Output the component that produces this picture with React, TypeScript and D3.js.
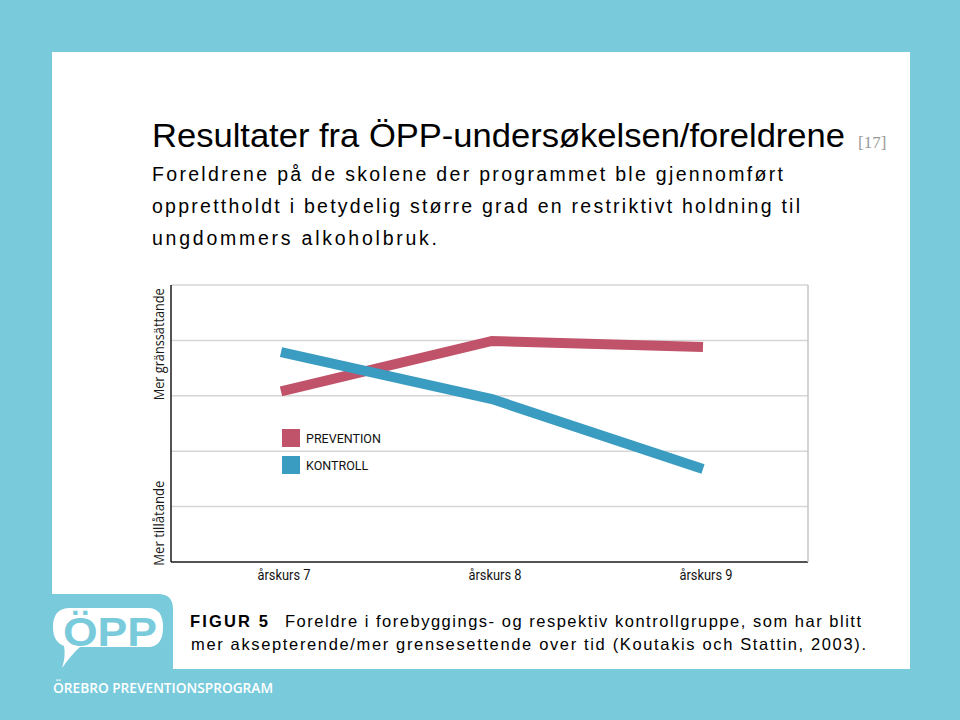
import React from "react";
import * as d3 from "d3";

const categories = ["årskurs 7", "årskurs 8", "årskurs 9"];
const preventionValues = [3.08, 3.99, 3.88];
const kontrollValues = [3.79, 2.94, 1.68];
const yTicks = [0, 1, 2, 3, 4, 5];
const seriesNames = ["PREVENTION", "KONTROLL"];
const yLabels = ["Mer gränssättande", "Mer tillåtande"];

const titleText = "Resultater fra ÖPP-undersøkelsen/foreldrene";
const subtitleLines = [
  "Foreldrene på de skolene der programmet ble gjennomført",
  "opprettholdt i betydelig større grad en restriktivt holdning til",
  "ungdommers alkoholbruk.",
];
const captionLabel = "FIGUR 5";
const captionLines = [
  "Foreldre i forebyggings- og respektiv kontrollgruppe, som har blitt",
  "mer aksepterende/mer grensesettende over tid (Koutakis och Stattin, 2003).",
];

const BG = "#79cbdc";
const RED = "#c0536a";
const BLUE = "#3a9cc1";

export default function App() {
  const plot = { left: 171, right: 808, top: 285, bottom: 562 };
  const x = d3.scalePoint<string>().domain(categories).range([281, 703]);
  const y = d3.scaleLinear().domain([0, 5]).range([plot.bottom, plot.top]);
  const line = d3
    .line<number>()
    .x((_, i) => x(categories[i]) as number)
    .y((d) => y(d));

  const series = [
    { name: seriesNames[0], values: preventionValues, color: RED },
    { name: seriesNames[1], values: kontrollValues, color: BLUE },
  ];

  const subtitleLengths = [631, 648, 285];

  return (
    <svg
      width={960}
      height={720}
      style={{ position: "absolute", left: 0, top: 0 }}
      xmlns="http://www.w3.org/2000/svg"
    >
      <rect x={0} y={0} width={960} height={720} fill={BG} />
      <rect x={52} y={52} width={858} height={617} fill="#ffffff" />

      {/* Title */}
      <text
        x={152}
        y={147}
        fontFamily="Liberation Sans, Arial, sans-serif"
        fontSize={33}
        fill="#000"
        textLength={693}
        lengthAdjust="spacingAndGlyphs"
      >
        {titleText}
      </text>
      <text
        x={858}
        y={148}
        fontFamily="Liberation Serif, serif"
        fontSize={17}
        fill="#9a9a9a"
      >
        [17]
      </text>
      {subtitleLines.map((t, i) => (
        <text
          key={i}
          x={152}
          y={181 + i * 32}
          fontFamily="Liberation Sans, Arial, sans-serif"
          fontSize={19.5}
          fill="#000"
          textLength={subtitleLengths[i]}
          lengthAdjust="spacing"
        >
          {t}
        </text>
      ))}

      {/* Chart gridlines */}
      {yTicks.map((t) => (
        <line
          key={t}
          x1={plot.left}
          x2={plot.right}
          y1={y(t)}
          y2={y(t)}
          stroke={t === 0 ? "#1a1a1a" : "#d6d6d6"}
          strokeWidth={1.5}
        />
      ))}
      <line
        x1={plot.right}
        x2={plot.right}
        y1={plot.top}
        y2={plot.bottom}
        stroke="#c4c4c4"
        strokeWidth={1.5}
      />
      <line
        x1={plot.left}
        x2={plot.left}
        y1={plot.top}
        y2={plot.bottom}
        stroke="#1a1a1a"
        strokeWidth={1.5}
      />

      {/* Y axis labels */}
      <text
        transform={`translate(164, ${y(3.93)}) rotate(-90)`}
        textAnchor="middle"
        fontFamily="Open Sans, sans-serif"
        fontSize={14}
        fill="#1a1a1a"
        textLength={112}
        lengthAdjust="spacingAndGlyphs"
      >
        {yLabels[0]}
      </text>
      <text
        transform={`translate(164, ${y(0.7)}) rotate(-90)`}
        textAnchor="middle"
        fontFamily="Open Sans, sans-serif"
        fontSize={14}
        fill="#1a1a1a"
        textLength={85}
        lengthAdjust="spacingAndGlyphs"
      >
        {yLabels[1]}
      </text>

      {/* X labels */}
      {categories.map((c) => (
        <text
          key={c}
          x={(x(c) as number) + 3}
          y={580}
          textAnchor="middle"
          fontFamily="Liberation Sans Narrow, Roboto, sans-serif"
          fontSize={14}
          fill="#111"
          textLength={53}
          lengthAdjust="spacingAndGlyphs"
        >
          {c}
        </text>
      ))}

      {/* Lines */}
      {series.map((s) => (
        <path
          key={s.name}
          d={line(s.values) || ""}
          fill="none"
          stroke={s.color}
          strokeWidth={10}
          strokeLinejoin="miter"
        />
      ))}

      {/* Legend */}
      {series.map((s, i) => (
        <g key={s.name} transform={`translate(282, ${429 + i * 27})`}>
          <rect x={0} y={0} width={18} height={18} fill={s.color} />
          <text
            x={24}
            y={14}
            fontFamily="Liberation Sans Narrow, Roboto, sans-serif"
            fontSize={12.5}
            fill="#111"
          >
            {s.name}
          </text>
        </g>
      ))}

      {/* Logo block */}
      <path d="M52,594 H158 Q173,594 173,609 V669 H52 Z" fill={BG} />
      <path
        d="M70,608 H148 Q163,608 163,627 Q163,647 148,647 H80 Q72,654 62,668 Q66,656 64,646 Q53,642 53,627 Q53,608 70,608 Z"
        fill="#ffffff"
      />
      <text
        x={110}
        y={646}
        textAnchor="middle"
        fontFamily="Liberation Sans, Arial, sans-serif"
        fontWeight="bold"
        fontSize={41}
        fill={BG}
        textLength={94}
        lengthAdjust="spacingAndGlyphs"
      >
        ÖPP
      </text>
      <text
        x={53}
        y={693}
        fontFamily="Open Sans, sans-serif"
        fontWeight={600}
        fontSize={13.5}
        fill="#ffffff"
        textLength={220}
        lengthAdjust="spacingAndGlyphs"
      >
        ÖREBRO PREVENTIONSPROGRAM
      </text>

      {/* Caption */}
      <text
        x={190}
        y={627}
        fontFamily="Liberation Sans, Arial, sans-serif"
        fontWeight="bold"
        fontSize={16.5}
        fill="#000"
        textLength={78}
        lengthAdjust="spacing"
      >
        {captionLabel}
      </text>
      <text
        x={285}
        y={627}
        fontFamily="Liberation Sans, Arial, sans-serif"
        fontSize={16.5}
        fill="#000"
        textLength={576}
        lengthAdjust="spacing"
      >
        {captionLines[0]}
      </text>
      <text
        x={191}
        y={650}
        fontFamily="Liberation Sans, Arial, sans-serif"
        fontSize={16.5}
        fill="#000"
        textLength={675}
        lengthAdjust="spacing"
      >
        {captionLines[1]}
      </text>
    </svg>
  );
}
